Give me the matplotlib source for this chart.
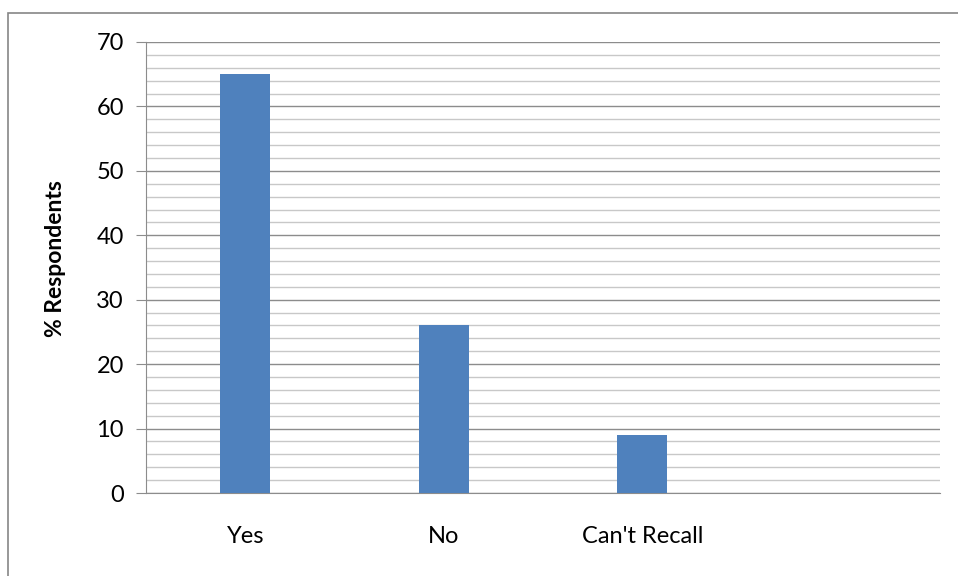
import matplotlib.pyplot as plt
from matplotlib.patches import Rectangle
from matplotlib.ticker import MultipleLocator

categories = ["Yes", "No", "Can't Recall", ""]
respondents = [65, 26, 9, 0]

BAR_COLOR = "#4f81bd"


def main():
    plt.rcParams['font.family'] = ['Lato', 'DejaVu Sans']

    fig = plt.figure(figsize=(9.58, 5.76), dpi=100)
    W, H = 958, 576

    # outer chart border (runs off the right and bottom edges)
    fig.patches.append(Rectangle((8 / W, -0.1), 1.2, 1 - 13 / H + 0.1,
                                 transform=fig.transFigure, fill=False,
                                 edgecolor="#868686", linewidth=1.2))

    ax = fig.add_axes([146 / W, 1 - 493 / H, (940 - 146) / W, (493 - 42) / H])

    x = range(len(categories))
    ax.bar(x[:3], respondents[:3], width=0.25, color=BAR_COLOR, zorder=3)

    ax.set_xlim(-0.5, 3.5)
    ax.set_ylim(0, 70)
    ax.yaxis.set_major_locator(MultipleLocator(10))
    ax.yaxis.set_minor_locator(MultipleLocator(2))
    ax.set_xticks(list(x))
    ax.set_xticklabels(categories)

    ax.grid(which='major', axis='y', color="#8c8c8c", linewidth=1.0, zorder=0)
    ax.grid(which='minor', axis='y', color="#c8c8c8", linewidth=1.0, zorder=0)

    for side in ("top", "right"):
        ax.spines[side].set_visible(False)
    ax.spines["left"].set_color("#8c8c8c")
    ax.spines["bottom"].set_color("#8c8c8c")

    ax.tick_params(axis='y', which='major', length=7, color="#8c8c8c",
                   labelsize=17, pad=9)
    ax.tick_params(axis='y', which='minor', length=0)
    ax.tick_params(axis='x', length=0, labelsize=17, pad=24)

    ax.set_ylabel("% Respondents", fontsize=16.5, fontweight='bold', labelpad=22)
    ax.yaxis.label.set_y(0.52)

    fig.savefig("out.png", dpi=100)


if __name__ == "__main__":
    main()
